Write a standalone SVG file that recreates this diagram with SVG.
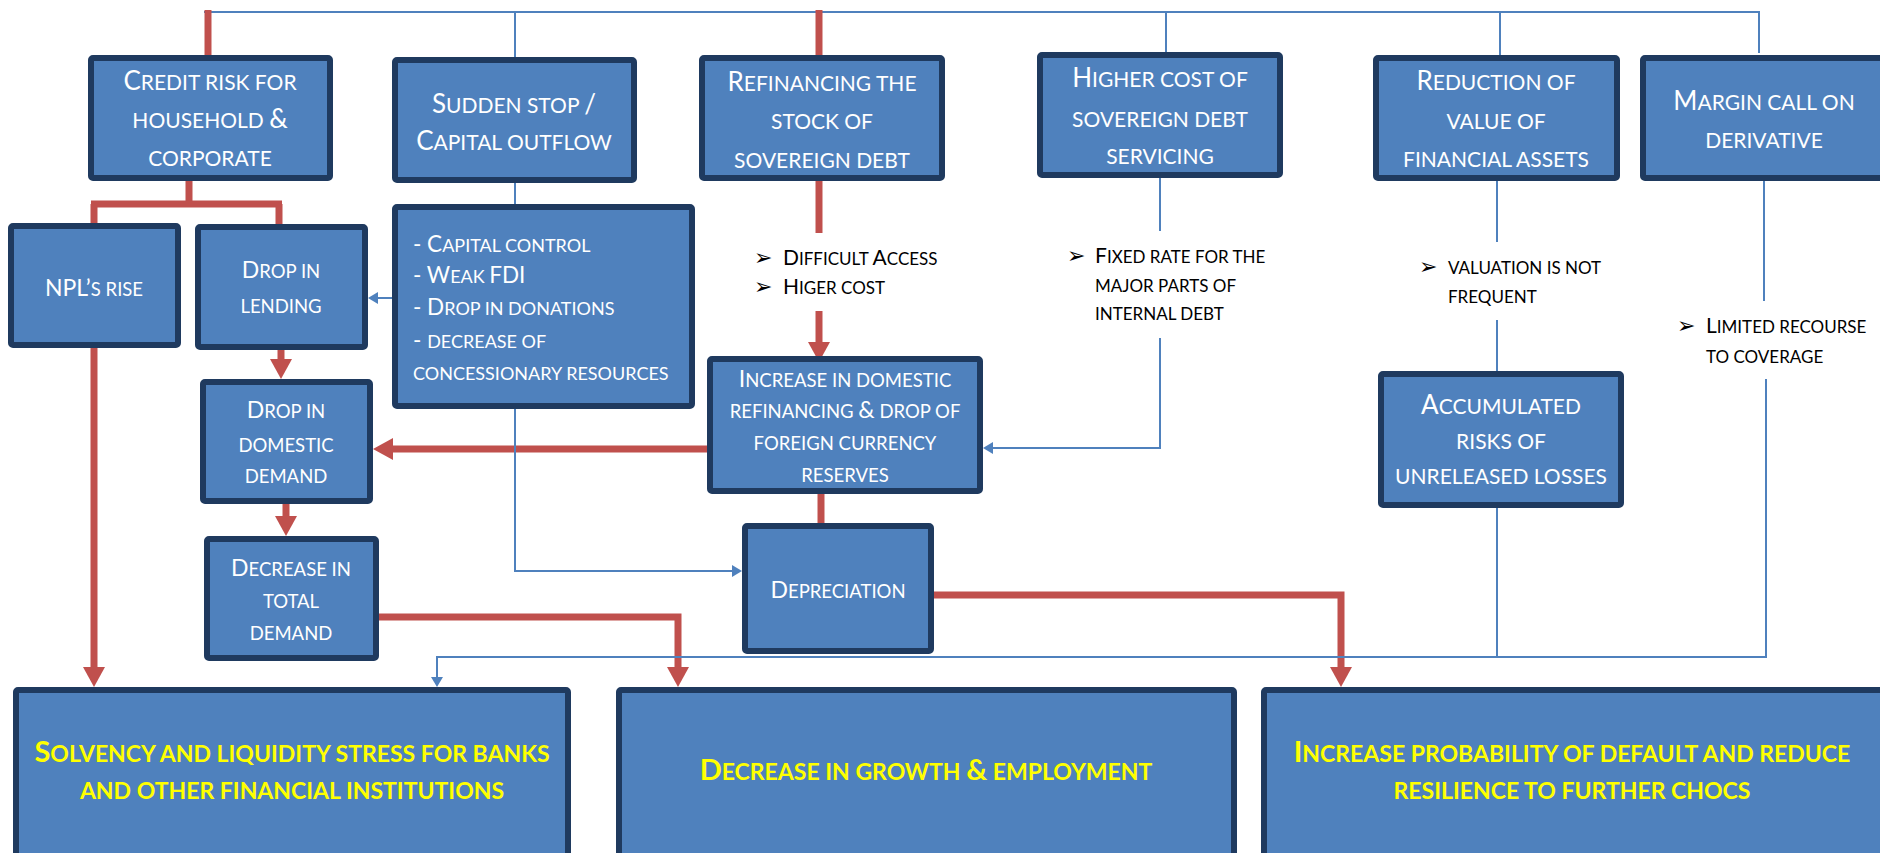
<svg xmlns="http://www.w3.org/2000/svg" width="1880" height="853" viewBox="0 0 1880 853">
<style>
.box{fill:#4F81BD;stroke:#1F3A5F;stroke-width:6}
.t{font-family:Lato,'Liberation Sans',sans-serif;fill:#fff;font-size:21px;text-anchor:middle}
.t .k{font-size:26px}
.m{font-family:Lato,'Liberation Sans',sans-serif;fill:#fff;font-size:18.5px;text-anchor:middle}
.m .k{font-size:23px}
.s{font-family:Lato,'Liberation Sans',sans-serif;fill:#fff;font-size:18px}
.s .k{font-size:22.5px}
.b{font-family:Lato,'Liberation Sans',sans-serif;fill:#000;font-size:17px}
.b .k{font-size:21px}
.ar{font-family:'DejaVu Sans',sans-serif;fill:#000;font-size:22px}
.y{font-family:Lato,'Liberation Sans',sans-serif;fill:#FFFF00;font-weight:bold;font-size:23px;text-anchor:middle}
.y .k{font-size:29px}
.r{stroke:#C0504D;stroke-width:7;fill:none}
.bl{stroke:#4F81BD;stroke-width:2;fill:none}
</style>
<defs>
<marker id="ra" markerUnits="userSpaceOnUse" viewBox="0 0 20 22" markerWidth="20" markerHeight="22" refX="0" refY="11" orient="auto"><path d="M0,0 L20,11 L0,22 z" fill="#C0504D"/></marker>
<marker id="ba" markerUnits="userSpaceOnUse" viewBox="0 0 10 12" markerWidth="10" markerHeight="12" refX="0" refY="6" orient="auto"><path d="M0,0 L10,6 L0,12 z" fill="#4F81BD"/></marker>
</defs>
<rect width="1880" height="853" fill="#fff"/>
<g id="connectors">
<path class="bl" d="M204,12 H1760" stroke-width="4"/>
<path class="bl" d="M1759,12 V53"/>
<path class="bl" d="M515,12 V57 M1166,12 V52 M1500,12 V55"/>
<path class="r" d="M208,10 V55"/>
<path class="r" d="M819,10 V55"/>
<path class="r" d="M189,181 V204 M91,204 H282 M94,204 V223 M279,204 V224"/>
<path class="r" d="M94,348 V667" marker-end="url(#ra)"/>
<path class="r" d="M281,350 V359" marker-end="url(#ra)"/>
<path class="r" d="M286,504 V516" marker-end="url(#ra)"/>
<path class="r" d="M379,617 H678 V667" marker-end="url(#ra)"/>
<path class="r" d="M819,181 V233"/>
<path class="r" d="M819,311 V342" marker-end="url(#ra)"/>
<path class="r" d="M707,449 H393" marker-end="url(#ra)"/>
<path class="r" d="M821,494 V523"/>
<path class="r" d="M934,595 H1341 V667" marker-end="url(#ra)"/>
<path class="bl" d="M515,183 V204"/>
<path class="bl" d="M392,298 H378" marker-end="url(#ba)"/>
<path class="bl" d="M515,409 V571 H732" marker-end="url(#ba)"/>
<path class="bl" d="M1160,178 V231"/>
<path class="bl" d="M1160,338 V448 H993" marker-end="url(#ba)"/>
<path class="bl" d="M1497,181 V242 M1497,320 V371 M1497,508 V657"/>
<path class="bl" d="M1764,181 V301"/>
<path class="bl" d="M1766,379 V657 H437 V677" marker-end="url(#ba)"/>
</g>
<g id="credit"><rect class="box" x="91" y="58" width="239" height="120" rx="2"/>
<text class="t" x="210" y="90"><tspan class="k">C</tspan>REDIT RISK FOR</text><text class="t" x="210" y="128">HOUSEHOLD <tspan class="k">&amp;</tspan></text><text class="t" x="210" y="166">CORPORATE</text></g>
<g id="sudden"><rect class="box" x="395" y="60" width="239" height="120" rx="2"/>
<text class="t" x="514" y="113"><tspan class="k">S</tspan>UDDEN STOP <tspan class="k">/</tspan></text><text class="t" x="514" y="150"><tspan class="k">C</tspan>APITAL OUTFLOW</text></g>
<g id="refinancing"><rect class="box" x="702" y="58" width="240" height="120" rx="2"/>
<text class="t" x="822" y="91"><tspan class="k">R</tspan>EFINANCING THE</text><text class="t" x="822" y="129">STOCK OF</text><text class="t" x="822" y="168">SOVEREIGN DEBT</text></g>
<g id="higher"><rect class="box" x="1040" y="55" width="240" height="120" rx="2"/>
<text class="t" x="1160" y="87"><tspan class="k">H</tspan>IGHER COST OF</text><text class="t" x="1160" y="127">SOVEREIGN DEBT</text><text class="t" x="1160" y="164">SERVICING</text></g>
<g id="reduction"><rect class="box" x="1376" y="58" width="241" height="120" rx="2"/>
<text class="t" x="1496" y="90"><tspan class="k">R</tspan>EDUCTION OF</text><text class="t" x="1496" y="129">VALUE OF</text><text class="t" x="1496" y="167">FINANCIAL ASSETS</text></g>
<g id="margin"><rect class="box" x="1643" y="58" width="250" height="120" rx="2"/>
<text class="t" x="1764" y="110"><tspan class="k">M</tspan>ARGIN CALL ON</text><text class="t" x="1764" y="148">DERIVATIVE</text></g>
<g id="npl"><rect class="box" x="11" y="226" width="167" height="119" rx="2"/>
<text class="m" x="94" y="296"><tspan class="k">NPL’</tspan>S RISE</text></g>
<g id="lending"><rect class="box" x="198" y="227" width="167" height="120" rx="2"/>
<text class="m" x="281" y="278"><tspan class="k">D</tspan>ROP IN</text><text class="m" x="281" y="313">LENDING</text></g>
<g id="capital"><rect class="box" x="395" y="207" width="297" height="199" rx="2"/>
<text class="s" x="413" y="252"><tspan class="k">- C</tspan>APITAL CONTROL</text><text class="s" x="413" y="283"><tspan class="k">- W</tspan>EAK <tspan class="k">FDI</tspan></text><text class="s" x="413" y="315"><tspan class="k">- D</tspan>ROP IN DONATIONS</text><text class="s" x="413" y="348"><tspan class="k">- </tspan>DECREASE OF</text><text class="s" x="413" y="380">CONCESSIONARY RESOURCES</text></g>
<g id="domestic"><rect class="box" x="203" y="382" width="167" height="119" rx="2"/>
<text class="m" x="286" y="418"><tspan class="k">D</tspan>ROP IN</text><text class="m" x="286" y="452">DOMESTIC</text><text class="m" x="286" y="483">DEMAND</text></g>
<g id="total"><rect class="box" x="207" y="539" width="169" height="119" rx="2"/>
<text class="m" x="291" y="576"><tspan class="k">D</tspan>ECREASE IN</text><text class="m" x="291" y="608">TOTAL</text><text class="m" x="291" y="640">DEMAND</text></g>
<g id="increase"><rect class="box" x="710" y="359" width="270" height="132" rx="2"/>
<text class="m" x="845" y="387"><tspan class="k">I</tspan>NCREASE IN DOMESTIC</text><text class="m" x="845" y="418">REFINANCING <tspan class="k">&amp;</tspan> DROP OF</text><text class="m" x="845" y="450">FOREIGN CURRENCY</text><text class="m" x="845" y="482">RESERVES</text></g>
<g id="depreciation"><rect class="box" x="745" y="526" width="186" height="125" rx="2"/>
<text class="m" x="838" y="598"><tspan class="k">D</tspan>EPRECIATION</text></g>
<g id="accumulated"><rect class="box" x="1381" y="374" width="240" height="131" rx="2"/>
<text class="t" x="1501" y="414"><tspan class="k">A</tspan>CCUMULATED</text><text class="t" x="1501" y="449">RISKS OF</text><text class="t" x="1501" y="484">UNRELEASED LOSSES</text></g>
<g id="bullets-refinancing"><text class="ar" x="754" y="265">➢</text><text class="b" x="783" y="265"><tspan class="k">D</tspan>IFFICULT <tspan class="k">A</tspan>CCESS</text><text class="ar" x="754" y="294">➢</text><text class="b" x="783" y="294"><tspan class="k">H</tspan>IGER COST</text></g>
<g id="bullets-higher"><text class="ar" x="1067" y="263">➢</text><text class="b" x="1095" y="263"><tspan class="k">F</tspan>IXED RATE FOR THE</text><text class="b" x="1095" y="292">MAJOR PARTS OF</text><text class="b" x="1095" y="320">INTERNAL DEBT</text></g>
<g id="bullets-reduction"><text class="ar" x="1419" y="274">➢</text><text class="b" x="1448" y="274">VALUATION IS NOT</text><text class="b" x="1448" y="303">FREQUENT</text></g>
<g id="bullets-margin"><text class="ar" x="1677" y="333">➢</text><text class="b" x="1706" y="333"><tspan class="k">L</tspan>IMITED RECOURSE</text><text class="b" x="1706" y="363">TO COVERAGE</text></g>
<g id="solvency"><rect class="box" x="16" y="690" width="552" height="170" rx="2"/>
<text class="y" x="292" y="762"><tspan class="k">S</tspan>OLVENCY AND LIQUIDITY STRESS FOR BANKS</text><text class="y" x="292" y="799">AND OTHER FINANCIAL INSTITUTIONS</text></g>
<g id="growth"><rect class="box" x="619" y="690" width="615" height="170" rx="2"/>
<text class="y" x="926" y="780"><tspan class="k">D</tspan>ECREASE IN GROWTH <tspan class="k">&amp;</tspan> EMPLOYMENT</text></g>
<g id="default"><rect class="box" x="1264" y="690" width="630" height="170" rx="2"/>
<text class="y" x="1572" y="762"><tspan class="k">I</tspan>NCREASE PROBABILITY OF DEFAULT AND REDUCE</text><text class="y" x="1572" y="799">RESILIENCE TO FURTHER CHOCS</text></g>
</svg>
